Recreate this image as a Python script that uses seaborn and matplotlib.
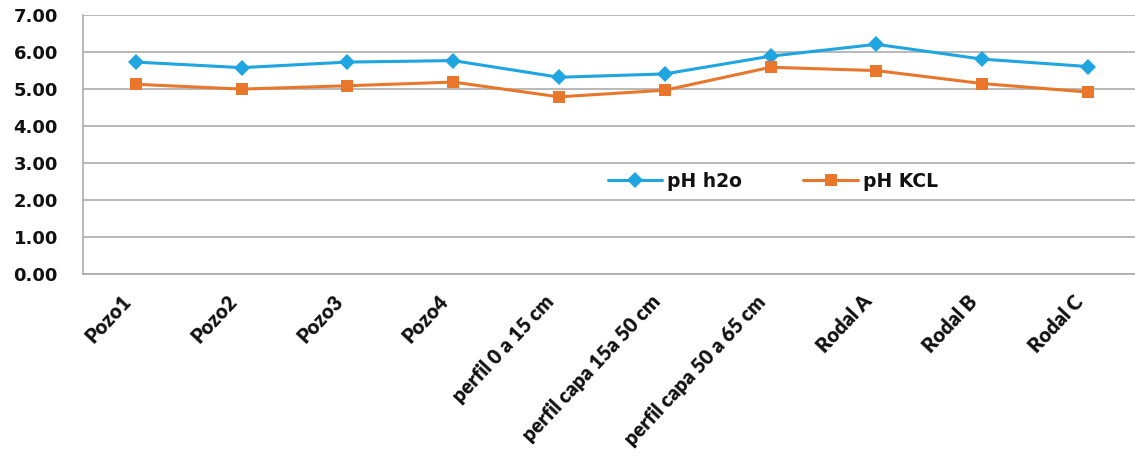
import matplotlib
matplotlib.use("Agg")
import matplotlib.pyplot as plt
import matplotlib.transforms as mtransforms
import seaborn as sns
import pandas as pd

categories = ["Pozo1", "Pozo2", "Pozo3", "Pozo4", "perfil 0 a 15 cm",
              "perfil capa 15a 50 cm", "perfil capa 50 a 65 cm",
              "Rodal A", "Rodal B", "Rodal C"]
ph_h2o = [5.73, 5.58, 5.73, 5.77, 5.32, 5.41, 5.89, 6.21, 5.81, 5.61]
ph_kcl = [5.13, 5.00, 5.09, 5.19, 4.79, 4.97, 5.59, 5.50, 5.15, 4.92]
series_names = ["pH h2o", "pH KCL"]
yticks = [0, 1, 2, 3, 4, 5, 6, 7]

df = pd.DataFrame({
    "cat": categories * 2,
    "value": ph_h2o + ph_kcl,
    "serie": [series_names[0]] * len(categories) + [series_names[1]] * len(categories),
})

sns.set_style("white")
plt.rcParams["font.family"] = ["Lato", "DejaVu Sans"]
plt.rcParams["font.weight"] = "bold"

fig = plt.figure(figsize=(11.35, 4.63), dpi=100)
ax = fig.add_axes([0.0731, 0.408, 0.932, 0.5594])

palette = {"pH h2o": "#1FA5DF", "pH KCL": "#E8772C"}
sns.lineplot(data=df, x="cat", y="value", hue="serie", style="serie",
             markers={"pH h2o": "D", "pH KCL": "s"}, dashes=False,
             palette=palette, linewidth=2.2, markersize=8, markeredgewidth=0,
             sort=False, ax=ax)

ax.set_xlim(-0.5, len(categories) - 0.5)
ax.set_ylim(0, 7)
ax.set_yticks(yticks)
ax.set_yticklabels([f"{v:.2f}" for v in yticks], fontsize=13, fontweight="bold",
                   color="#111111", family=["DejaVu Sans"])
ax.yaxis.grid(True, color="#A6A6A6", linewidth=1.1)
ax.set_axisbelow(True)
ax.tick_params(axis="y", length=0, pad=18)
ax.tick_params(axis="x", length=0, pad=4)
ax.set_xticks(range(len(categories)))
ax.set_xticklabels(categories, rotation=47, ha="right", rotation_mode="anchor",
                   fontsize=14.5, fontweight="heavy", color="#111111")
offset = mtransforms.ScaledTranslation(-15 / 100, -12 / 100, fig.dpi_scale_trans)
for lab in ax.get_xticklabels():
    lab.set_transform(lab.get_transform() + offset)
ax.set_xlabel("")
ax.set_ylabel("")
for s in ["top", "right"]:
    ax.spines[s].set_visible(False)
ax.spines["left"].set_color("#A6A6A6")
ax.spines["bottom"].set_color("#A6A6A6")
ax.spines["left"].set_linewidth(1.1)
ax.spines["bottom"].set_linewidth(1.1)

handles, labels = ax.get_legend_handles_labels()
leg = ax.legend(handles, labels, loc="center", bbox_to_anchor=(0.652, 0.359),
                ncol=2, frameon=False, handlelength=2.9,
                columnspacing=3.3, handletextpad=0.25,
                prop={"weight": "bold", "size": 13.5, "family": ["DejaVu Sans"]})
for t in leg.get_texts():
    t.set_color("#111111")

fig.savefig("out.png", dpi=100)
